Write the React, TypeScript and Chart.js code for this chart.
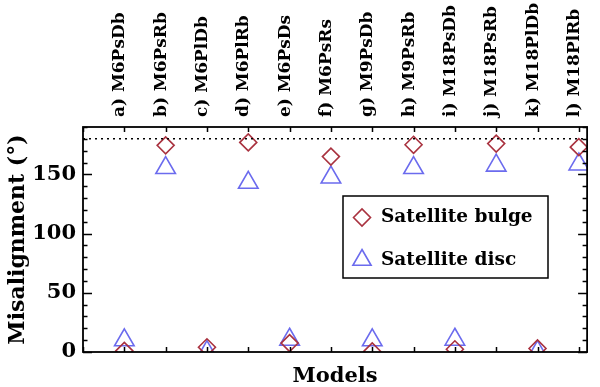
import React, { useEffect, useRef } from 'react';
import { Chart, registerables } from 'chart.js';

Chart.register(...registerables);

const models = [
  'a) M6PsDb', 'b) M6PsRb', 'c) M6PlDb', 'd) M6PlRb', 'e) M6PsDs', 'f) M6PsRs',
  'g) M9PsDb', 'h) M9PsRb', 'i) M18PsDb', 'j) M18PsRb', 'k) M18PlDb', 'l) M18PlRb',
];
const bulge = [1, 174.5, 4, 177, 7.5, 165, 0.5, 175, 2.3, 176, 3, 173];
const disc = [10, 155.5, 0, 143, 10.5, 147.5, 10, 155.5, 10.5, 157.5, 0, 158.5];
const yTickLabels = [0, 50, 100, 150];
const alignedLine = 180;
const xRange = [-1, 11.2];
const yRange = [0, 190];
const legendLabels = ['Satellite bulge', 'Satellite disc'];

const RED = '#a9323f';
const BLUE = '#6b6bee';
const FONT = '"DejaVu Serif", serif';

const framePlugin = {
  id: 'frameTicks',
  afterDatasetsDraw(chart: any) {
    const { ctx, chartArea: a, scales } = chart;
    const y = scales.y;
    const x = scales.x;
    ctx.save();
    ctx.strokeStyle = '#000';
    ctx.lineWidth = 1.5;
    ctx.beginPath();
    for (let v = yRange[0]; v <= yRange[1]; v += 10) {
      const py = Math.round(y.getPixelForValue(v)) + 0.5;
      const len = v % 50 === 0 ? 9 : 4.5;
      ctx.moveTo(a.left, py);
      ctx.lineTo(a.left + len, py);
      ctx.moveTo(a.right, py);
      ctx.lineTo(a.right - len, py);
    }
    for (let i = Math.ceil(xRange[0]); i <= xRange[1]; i++) {
      const px = Math.round(x.getPixelForValue(i)) + 0.5;
      const len = 5;
      ctx.moveTo(px, a.bottom);
      ctx.lineTo(px, a.bottom - len);
      ctx.moveTo(px, a.top);
      ctx.lineTo(px, a.top + len);
    }
    ctx.stroke();
    ctx.lineWidth = 1.8;
    ctx.strokeRect(a.left, a.top, a.right - a.left, a.bottom - a.top);
    ctx.restore();
  },
  afterDraw(chart: any) {
    const { ctx, chartArea: a } = chart;
    const bx = a.left + 260;
    const by = a.top + 69;
    const bw = 205;
    const bh = 82;
    ctx.save();
    ctx.fillStyle = '#fff';
    ctx.fillRect(bx, by, bw, bh);
    ctx.strokeStyle = '#000';
    ctx.lineWidth = 1.5;
    ctx.strokeRect(bx, by, bw, bh);
    const mx = bx + 19;
    const y1 = by + 21.5;
    const y2 = by + 64;
    ctx.lineWidth = 1.6;
    ctx.strokeStyle = RED;
    ctx.beginPath();
    const r = 8.5;
    ctx.moveTo(mx - r, y1);
    ctx.lineTo(mx, y1 - r);
    ctx.lineTo(mx + r, y1);
    ctx.lineTo(mx, y1 + r);
    ctx.closePath();
    ctx.stroke();
    ctx.strokeStyle = BLUE;
    ctx.beginPath();
    const t = 10.5;
    ctx.moveTo(mx, y2 - t);
    ctx.lineTo(mx + t * 0.866, y2 + t / 2);
    ctx.lineTo(mx - t * 0.866, y2 + t / 2);
    ctx.closePath();
    ctx.stroke();
    ctx.fillStyle = '#000';
    ctx.font = `bold 18.5px ${FONT}`;
    ctx.textBaseline = 'middle';
    ctx.textAlign = 'left';
    ctx.fillText(legendLabels[0], bx + 38, y1);
    ctx.fillText(legendLabels[1], bx + 38, y2);
    ctx.restore();
  },
};

export default function App() {
  const ref = useRef<HTMLCanvasElement>(null);
  useEffect(() => {
    const canvas = ref.current;
    if (!canvas) return;
    const chart = new Chart(canvas, {
      type: 'scatter',
      data: {
        datasets: [
          {
            type: 'line',
            data: [
              { x: xRange[0], y: alignedLine },
              { x: xRange[1], y: alignedLine },
            ],
            borderColor: '#000',
            borderWidth: 1.5,
            borderDash: [2, 4],
            pointRadius: 0,
            showLine: true,
            clip: 0,
          } as any,
          {
            label: legendLabels[0],
            data: bulge.map((v, i) => ({ x: i, y: v })),
            pointStyle: 'rectRot',
            pointRadius: 8.5,
            pointBorderWidth: 1.6,
            borderColor: RED,
            backgroundColor: 'rgba(0,0,0,0)',
            clip: 0,
          } as any,
          {
            label: legendLabels[1],
            data: disc.map((v, i) => ({ x: i, y: v })),
            pointStyle: 'triangle',
            pointRadius: 11.3,
            pointBorderWidth: 1.6,
            borderColor: BLUE,
            backgroundColor: 'rgba(0,0,0,0)',
            clip: 0,
          } as any,
        ],
      },
      options: {
        responsive: false,
        maintainAspectRatio: false,
        animation: false,
        events: [],
        layout: { padding: { left: 0, top: 0, right: 4, bottom: 0 } },
        plugins: { legend: { display: false }, tooltip: { enabled: false } },
        scales: {
          x: {
            type: 'linear',
            position: 'bottom',
            min: xRange[0],
            max: xRange[1],
            grid: { display: false, drawTicks: false },
            border: { display: false },
            ticks: { display: false },
            title: {
              display: true,
              text: 'Models',
              color: '#000',
              font: { family: FONT, size: 21, weight: 'bold', lineHeight: 1 },
              padding: { top: 0, bottom: 0 },
            },
            afterFit(s: any) {
              s.height = 35;
              s.paddingLeft = 0;
              s.paddingRight = 0;
            },
          },
          x2: {
            type: 'linear',
            position: 'top',
            min: xRange[0],
            max: xRange[1],
            grid: { display: false, drawTicks: false },
            border: { display: false },
            afterBuildTicks(s: any) {
              s.ticks = models.map((_, i) => ({ value: i }));
            },
            ticks: {
              autoSkip: false,
              minRotation: 90,
              maxRotation: 90,
              padding: 10,
              labelOffset: 16,
              color: '#000',
              font: { family: FONT, size: 17, weight: 'bold' },
              callback: (v: any) => models[Math.round(Number(v))] ?? '',
            },
            afterFit(s: any) {
              s.height = 127;
              s.paddingLeft = 0;
              s.paddingRight = 0;
            },
          },
          y: {
            type: 'linear',
            position: 'left',
            min: yRange[0],
            max: yRange[1],
            grid: { display: false, drawTicks: false },
            border: { display: false },
            afterBuildTicks(s: any) {
              s.ticks = yTickLabels.map((v) => ({ value: v }));
            },
            ticks: {
              padding: 7,
              color: '#000',
              font: { family: FONT, size: 21, weight: 'bold' },
            },
            title: {
              display: true,
              text: 'Misalignment (°)',
              color: '#000',
              font: { family: FONT, size: 22, weight: 'bold', lineHeight: 1.2 },
              padding: { top: 5, bottom: 0 },
            },
            afterFit(s: any) {
              s.width = 83;
              s.paddingTop = 0;
              s.paddingBottom = 0;
            },
          },
        },
      } as any,
      plugins: [framePlugin],
    });
    return () => chart.destroy();
  }, []);
  return (
    <div style={{ position: 'fixed', left: 0, top: 0, width: 600, height: 387, background: '#fff' }}>
      <canvas ref={ref} width={600} height={387} style={{ width: 600, height: 387 }} />
    </div>
  );
}
